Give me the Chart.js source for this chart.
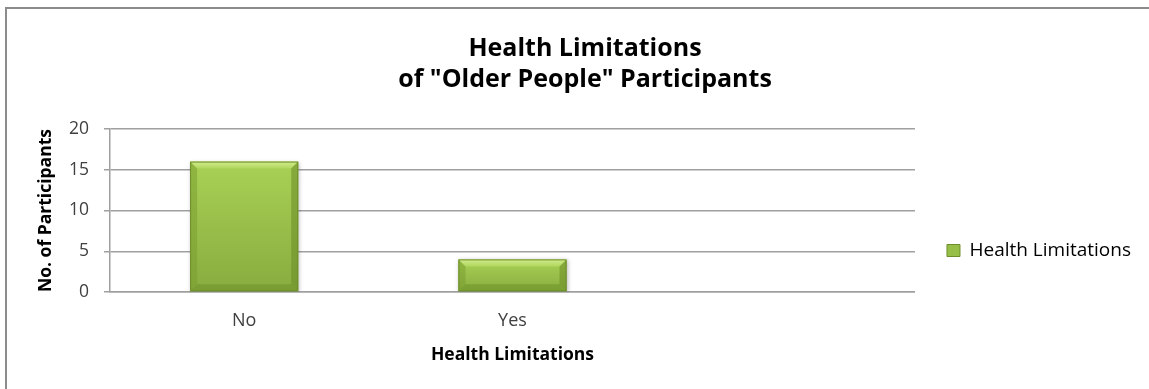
<!DOCTYPE html>
<html>
<head>
<meta charset="utf-8">
<script src="https://cdn.jsdelivr.net/npm/chart.js@4/dist/chart.umd.min.js"></script>
<style>
  html, body { margin: 0; padding: 0; background: #fff; overflow: hidden; }
  #wrap { position: relative; width: 1149px; height: 389px; overflow: hidden; }
  #frame { position: absolute; left: 5px; top: 7px; right: 0; bottom: 0; border-top: 2px solid #8c8c8c; border-left: 2px solid #8c8c8c; }
  #chart { position: absolute; left: 0; top: 0; }
</style>
</head>
<body>
<div id="wrap">
  <div id="frame"></div>
  <canvas id="chart" width="1149" height="389"></canvas>
</div>
<script>
/* Health limitations of older participants – bar chart */

const categories = ['No', 'Yes', ''];
const participants = [16, 4, null];
const yTicks = [0, 5, 10, 15, 20];

const FONT = '"Open Sans", "DejaVu Sans", sans-serif';
const PLOT_LEFT = 110;
const PLOT_BOTTOM = 292;

// per-bar vertical gradient, built from the value scale
function barFill(ctx) {
  const chart = ctx.chart;
  const y = chart.scales.y;
  if (!y || ctx.raw == null) return '#9cc44c';
  const top = y.getPixelForValue(ctx.raw);
  const base = y.getPixelForValue(0);
  const g = chart.ctx.createLinearGradient(0, top, 0, base);
  g.addColorStop(0, '#a9d155');
  g.addColorStop(1, '#88ac3f');
  return g;
}

// soft drop shadow under the bars
const barShadow = {
  id: 'barShadow',
  beforeDatasetsDraw(chart) {
    const c = chart.ctx;
    c.save();
    c.shadowColor = 'rgba(0,0,0,0.28)';
    c.shadowBlur = 4;
    c.shadowOffsetX = 1;
    c.shadowOffsetY = 1;
  },
  afterDatasetsDraw(chart) {
    chart.ctx.restore();
  }
};

// bevelled edges drawn over each bar
const barBevel = {
  id: 'barBevel',
  afterDatasetsDraw(chart) {
    const c = chart.ctx;
    const meta = chart.getDatasetMeta(0);
    meta.data.forEach((bar, i) => {
      if (participants[i] == null) return;
      const { x, y, base, width } = bar.getProps(['x', 'y', 'base', 'width'], true);
      const l = x - width / 2, r = x + width / 2, t = y, b = base;
      const k = Math.min(7, (b - t) / 2);
      const poly = (pts, fill) => {
        c.beginPath();
        c.moveTo(pts[0][0], pts[0][1]);
        for (let j = 1; j < pts.length; j++) c.lineTo(pts[j][0], pts[j][1]);
        c.closePath();
        c.fillStyle = fill;
        c.fill();
      };
      c.save();
      const tg = c.createLinearGradient(0, t, 0, t + k);
      tg.addColorStop(0, '#d2ec8e');
      tg.addColorStop(1, '#b0d65d');
      poly([[l, t], [r, t], [r - k, t + k], [l + k, t + k]], tg);
      poly([[l, t], [l + k, t + k], [l + k, b - k], [l, b]], 'rgba(120,155,45,0.5)');
      poly([[r, t], [r, b], [r - k, b - k], [r - k, t + k]], 'rgba(105,140,38,0.55)');
      poly([[l, b], [r, b], [r - k, b - k], [l + k, b - k]], 'rgba(110,145,40,0.55)');
      c.strokeStyle = '#6e8e2c';
      c.lineWidth = 1;
      c.strokeRect(l + 0.5, t + 0.5, width - 1, b - t - 1);
      c.restore();
    });
  }
};

new Chart(document.getElementById('chart'), {
  type: 'bar',
  data: {
    labels: categories,
    datasets: [{
      label: 'Health Limitations',
      data: participants,
      backgroundColor: barFill,
      borderWidth: 0,
      categoryPercentage: 1,
      barPercentage: 0.403
    }]
  },
  options: {
    responsive: false,
    animation: false,
    devicePixelRatio: 1,
    layout: { padding: { top: 10, right: 8, bottom: 20, left: 29 } },
    plugins: {
      tooltip: { enabled: false },
      title: {
        display: true,
        text: ['Health Limitations', 'of "Older People" Participants'],
        color: '#000',
        font: { family: FONT, size: 25, weight: 'bold', lineHeight: 1.25 },
        padding: { top: 23, bottom: 33.5 }
      },
      legend: {
        position: 'right',
        align: 'end',
        fullSize: false,
        labels: {
          color: '#404040',
          font: { family: FONT, size: 19 },
          boxWidth: 13,
          boxHeight: 12,
          padding: 32,
          generateLabels: () => [{
            text: 'Health Limitations',
            fillStyle: '#97bf48',
            strokeStyle: '#6e8e2c',
            lineWidth: 1,
            datasetIndex: 0
          }]
        }
      }
    },
    scales: {
      x: {
        grid: { display: false, drawTicks: false },
        border: { color: '#a0a0a0', width: 1.5 },
        ticks: { color: '#404040', font: { family: FONT, size: 18 }, padding: 18, maxRotation: 0 },
        title: {
          display: true,
          text: 'Health Limitations',
          color: '#000',
          font: { family: FONT, size: 17.5, weight: 'bold' },
          padding: { top: 4, bottom: 3 }
        },
        afterFit(scale) { scale.height = 389 - PLOT_BOTTOM - 20; }
      },
      y: {
        min: 0,
        max: 20,
        afterBuildTicks(scale) { scale.ticks = yTicks.map(v => ({ value: v })); },
        grid: { color: '#a0a0a0', lineWidth: 1.5, tickLength: 6 },
        border: { color: '#a0a0a0', width: 1.5 },
        ticks: { color: '#404040', font: { family: FONT, size: 17.5 }, padding: 15 },
        title: {
          display: true,
          text: 'No. of Participants',
          color: '#000',
          font: { family: FONT, size: 17.5, weight: 'bold' },
          padding: { top: 7, bottom: 4 }
        },
        afterFit(scale) { scale.width = PLOT_LEFT - 29; }
      }
    }
  },
  plugins: [barShadow, barBevel]
});
</script>
</body>
</html>
